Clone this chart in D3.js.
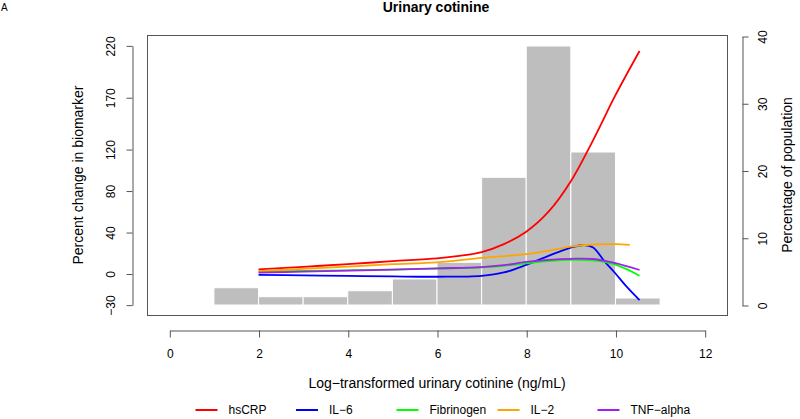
<!DOCTYPE html>
<html><head><meta charset="utf-8">
<script src="https://cdn.jsdelivr.net/npm/d3@7"></script>
<style>
html,body{margin:0;padding:0;background:#fff;}
svg{display:block;font-family:"Liberation Sans",Arial,Helvetica,sans-serif;}
</style></head>
<body><svg id="c" width="800" height="419"></svg>
<script>
// ---- data ----
const xTicks = [0, 2, 4, 6, 8, 10, 12];
const leftTicks = [-30, 0, 40, 80, 120, 170, 220];
const rightTicks = [0, 10, 20, 30, 40];
const binStart = [1, 2, 3, 4, 5, 6, 7, 8, 9, 10];
const binEnd   = [2, 3, 4, 5, 6, 7, 8, 9, 10, 11];
const binPct   = [2.57, 1.23, 1.23, 2.12, 3.87, 6.35, 18.99, 38.51, 22.75, 1.04];

const hsCRP_x = [2, 3, 4, 5, 6, 6.5, 7, 7.5, 8, 8.5, 9, 9.5, 10, 10.54];
const hsCRP   = [4.0, 6.5, 9.0, 11.9, 14.6, 17, 20.7, 28.4, 40.3, 59.6, 89, 128.7, 172, 214.6];
const IL6_x = [2, 3, 4, 5, 6, 7, 7.5, 8, 8.5, 9, 9.3, 9.5, 9.75, 10, 10.25, 10.54];
const IL6   = [-1.4, -1.8, -2.3, -2.8, -3.1, -2.2, 1, 8.3, 17, 25, 27.5, 25, 12, 0, -12.7, -25.6];
const Fib_x = [2, 3, 4, 5, 6, 7, 7.5, 8, 8.5, 9, 9.5, 10, 10.54];
const Fib   = [1.8, 2.5, 3.1, 3.8, 4.8, 6, 7.5, 9.8, 12, 13.2, 12.6, 8.5, -2.1];
const IL2_x = [2, 3, 4, 5, 6, 7, 8, 8.5, 9, 9.5, 10, 10.32];
const IL2   = [2.4, 4.5, 6.7, 9, 10.8, 15, 18.8, 22, 26, 28, 28.3, 27.6];
const TNF_x = [2, 3, 4, 5, 6, 7, 7.5, 8, 8.5, 9, 9.5, 10, 10.54];
const TNF   = [0.8, 1.8, 2.8, 3.8, 5, 6.2, 8, 11.2, 13.2, 14.2, 14, 10, 3.4];

const seriesNames  = ["hsCRP", "IL\u22126", "Fibrinogen", "IL\u22122", "TNF\u2212alpha"];
const seriesColors = ["#ff0000", "#0000ff", "#00ff00", "#ffa500", "#a020f0"];
const seriesX = [hsCRP_x, IL6_x, Fib_x, IL2_x, TNF_x];
const seriesY = [hsCRP, IL6, Fib, IL2, TNF];

// ---- layout ----
const box = {l: 147, r: 727, t: 35, b: 315};
const axisCol = "#555";
const svg = d3.select("#c");

const x = d3.scaleLinear().domain([-0.5, 12.5]).range([box.l, box.r]);
const yL = d3.scaleLinear().domain([-40, 230]).range([box.b, box.t]);
const yR = d3.scaleLinear().domain([0, 40]).range([305, 36]);

// histogram bars
svg.append("g").selectAll("rect").data(binPct).join("rect")
  .attr("x", (d, i) => x(binStart[i]))
  .attr("width", (d, i) => x(binEnd[i]) - x(binStart[i]))
  .attr("y", d => yR(d))
  .attr("height", d => yR(0) - yR(d))
  .attr("fill", "#bebebe")
  .attr("stroke", "#ffffff")
  .attr("stroke-width", 1);

// curves
const line = d3.line().curve(d3.curveCatmullRom.alpha(0.5));
seriesY.forEach((vals, k) => {
  const pts = vals.map((v, i) => [x(seriesX[k][i]), yL(v)]);
  svg.append("path").attr("d", line(pts))
    .attr("fill", "none").attr("stroke", seriesColors[k]).attr("stroke-width", 1.8);
});

// box
svg.append("rect").attr("x", box.l + 0.5).attr("y", box.t + 0.5)
  .attr("width", box.r - box.l).attr("height", box.b - box.t)
  .attr("fill", "none").attr("stroke", axisCol).attr("stroke-width", 1);

function styleAxis(g) {
  g.select(".domain").attr("stroke", axisCol);
  g.selectAll(".tick line").attr("stroke", axisCol);
  g.selectAll("text").attr("fill", "#000").attr("font-size", 12)
    .attr("font-family", '"Liberation Sans",Arial,Helvetica,sans-serif');
}

// bottom axis
const xA = x.copy().domain([xTicks[0], xTicks[xTicks.length - 1]])
  .range([x(xTicks[0]), x(xTicks[xTicks.length - 1])]);
const gx = svg.append("g").attr("transform", "translate(0.5,330.5)")
  .call(d3.axisBottom(xA).tickValues(xTicks).tickSize(7).tickSizeOuter(0).tickPadding(12).tickFormat(d3.format("d")));
styleAxis(gx);

// left axis
const yLA = yL.copy().domain([leftTicks[0], leftTicks[leftTicks.length - 1]])
  .range([yL(leftTicks[0]), yL(leftTicks[leftTicks.length - 1])]);
const gl = svg.append("g").attr("transform", "translate(132.5,0.5)")
  .call(d3.axisLeft(yLA).tickValues(leftTicks).tickSize(6).tickSizeOuter(0).tickFormat(d3.format("d")));
styleAxis(gl);
gl.selectAll(".tick text")
  .attr("x", null).attr("dy", null)
  .attr("text-anchor", "middle")
  .attr("transform", "translate(-22,0) rotate(-90)")
  .attr("dy", "0.35em");

// right axis
const yRA = yR.copy();
const gr = svg.append("g").attr("transform", "translate(742.5,0.5)")
  .call(d3.axisRight(yRA).tickValues(rightTicks).tickSize(6).tickSizeOuter(0).tickFormat(d3.format("d")));
styleAxis(gr);
gr.selectAll(".tick text")
  .attr("x", null).attr("dy", null)
  .attr("text-anchor", "middle")
  .attr("transform", "translate(20,0) rotate(-90)")
  .attr("dy", "0.35em");

// titles
svg.append("text").attr("x", 436).attr("y", 12).attr("text-anchor", "middle")
  .attr("font-size", 14).attr("font-weight", "bold").text("Urinary cotinine");
svg.append("text").attr("x", 1).attr("y", 11).attr("font-size", 10).text("A");
svg.append("text").attr("x", 437).attr("y", 388).attr("text-anchor", "middle")
  .attr("font-size", 14).text("Log\u2212transformed urinary cotinine (ng/mL)");
svg.append("text").attr("transform", "translate(78,175) rotate(-90)")
  .attr("text-anchor", "middle").attr("dy", "0.35em").attr("font-size", 14)
  .text("Percent change in biomarker");
svg.append("text").attr("transform", "translate(787,175) rotate(-90)")
  .attr("text-anchor", "middle").attr("dy", "0.35em").attr("font-size", 14)
  .text("Percentage of population");

// legend
const legStart = [195.5, 296, 396.5, 497.5, 597.5];
const lg = svg.append("g").selectAll("g").data(seriesNames).join("g")
  .attr("transform", (d, i) => `translate(${legStart[i]},410)`);
lg.append("line").attr("x1", 0).attr("x2", 22).attr("y1", 0).attr("y2", 0)
  .attr("stroke", (d, i) => seriesColors[i]).attr("stroke-width", 2);
lg.append("text").attr("x", 33).attr("y", 0).attr("dy", "0.35em")
  .attr("font-size", 12).text(d => d);
</script></body></html>
